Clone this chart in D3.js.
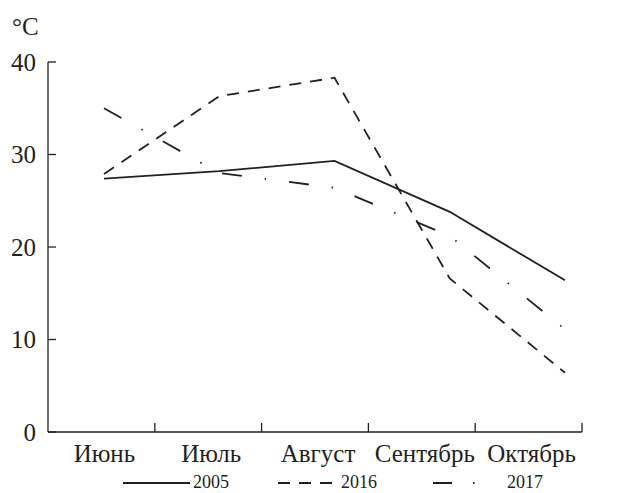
<!DOCTYPE html>
<html>
<head>
<meta charset="utf-8">
<script src="https://cdn.jsdelivr.net/npm/d3@7"></script>
<style>
  body { margin: 0; background: #fff; }
</style>
</head>
<body>
<script>
var width = 623,
    height = 493;

var months = ["Июнь", "Июль", "Август", "Сентябрь", "Октябрь"];
var yTicks = [0, 10, 20, 30, 40];
var t2005 = [27.4, 28.2, 29.3, 23.8, 16.4];
var t2016 = [27.9, 36.3, 38.3, 16.6, 6.4];
var t2017 = [35.0, 28.0, 26.4, 21.2, 11.1];

var series = [
  {name: "2005", values: t2005, dash: null},
  {name: "2016", values: t2016, dash: "12,9"},
  {name: "2017", values: t2017, dash: "20,23,1.5,23"}
];

var font = "'Liberation Serif', 'DejaVu Serif', 'Times New Roman', serif";
var ink = "#231f20";

var svg = d3.select("body").append("svg")
    .attr("width", width)
    .attr("height", height)
    .attr("font-family", font);

var y = d3.scaleLinear().domain([0, 40]).range([432, 62]);

// month bands for axis ticks / labels
var xBand = d3.scaleBand().domain(months).range([48, 582]);
// data points
var x = d3.scalePoint().domain(months).range([104, 565]);

// y axis
var yAxis = svg.append("g").attr("transform", "translate(48,0)");
yAxis.append("line")
    .attr("x1", 0).attr("x2", 0)
    .attr("y1", y(0)).attr("y2", y(40))
    .attr("stroke", ink).attr("stroke-width", 1.3);
yAxis.selectAll(".tk").data(yTicks).enter().append("line")
    .attr("x1", 0).attr("x2", 8)
    .attr("y1", function(d) { return y(d); })
    .attr("y2", function(d) { return y(d); })
    .attr("stroke", ink).attr("stroke-width", 1.3);
yAxis.selectAll(".lb").data(yTicks).enter().append("text")
    .attr("x", -12)
    .attr("y", function(d) { return y(d); })
    .attr("dy", "0.35em")
    .attr("text-anchor", "end")
    .attr("font-family", font)
    .attr("font-size", 25)
    .attr("fill", ink)
    .text(function(d) { return d; });

svg.append("text")
    .attr("x", 12).attr("y", 35)
    .attr("font-family", font)
    .attr("font-size", 25)
    .attr("fill", ink)
    .text("°C");

// x axis
var xAxis = svg.append("g").attr("transform", "translate(0," + y(0) + ")");
xAxis.append("line")
    .attr("x1", 48).attr("x2", 582)
    .attr("stroke", ink).attr("stroke-width", 1.3);
xAxis.selectAll(".tk").data(months).enter().append("line")
    .attr("x1", function(d) { return xBand(d) + xBand.bandwidth(); })
    .attr("x2", function(d) { return xBand(d) + xBand.bandwidth(); })
    .attr("y1", 0).attr("y2", -9)
    .attr("stroke", ink).attr("stroke-width", 1.3);
xAxis.selectAll(".lb").data(months).enter().append("text")
    .attr("x", function(d) { return xBand(d) + xBand.bandwidth() / 2 + 3; })
    .attr("y", 30)
    .attr("text-anchor", "middle")
    .attr("font-family", font)
    .attr("font-size", 25)
    .attr("fill", ink)
    .text(function(d) { return d; });

// lines
var line = d3.line()
    .x(function(d, i) { return x(months[i]); })
    .y(function(d) { return y(d); });

svg.selectAll(".series").data(series).enter().append("path")
    .attr("d", function(d) { return line(d.values); })
    .attr("fill", "none")
    .attr("stroke", ink)
    .attr("stroke-width", 1.8)
    .attr("stroke-dasharray", function(d) { return d.dash; });

// legend
var legend = [
  {s: series[0], x1: 123, x2: 190, tx: 193},
  {s: series[1], x1: 278, x2: 337, tx: 341},
  {s: series[2], x1: 433, x2: 480, tx: 507}
];
var lg = svg.selectAll(".lg").data(legend).enter().append("g");
lg.append("line")
    .attr("x1", function(d) { return d.x1; })
    .attr("x2", function(d) { return d.x2; })
    .attr("y1", 483).attr("y2", 483)
    .attr("stroke", ink).attr("stroke-width", 1.8)
    .attr("stroke-dasharray", function(d) { return d.s.name === "2017" ? "19,21,1.5,30" : d.s.dash; });
lg.append("text")
    .attr("x", function(d) { return d.tx; })
    .attr("y", 488)
    .attr("font-family", font)
    .attr("font-size", 18)
    .attr("fill", ink)
    .text(function(d) { return d.s.name; });
</script>
</body>
</html>
